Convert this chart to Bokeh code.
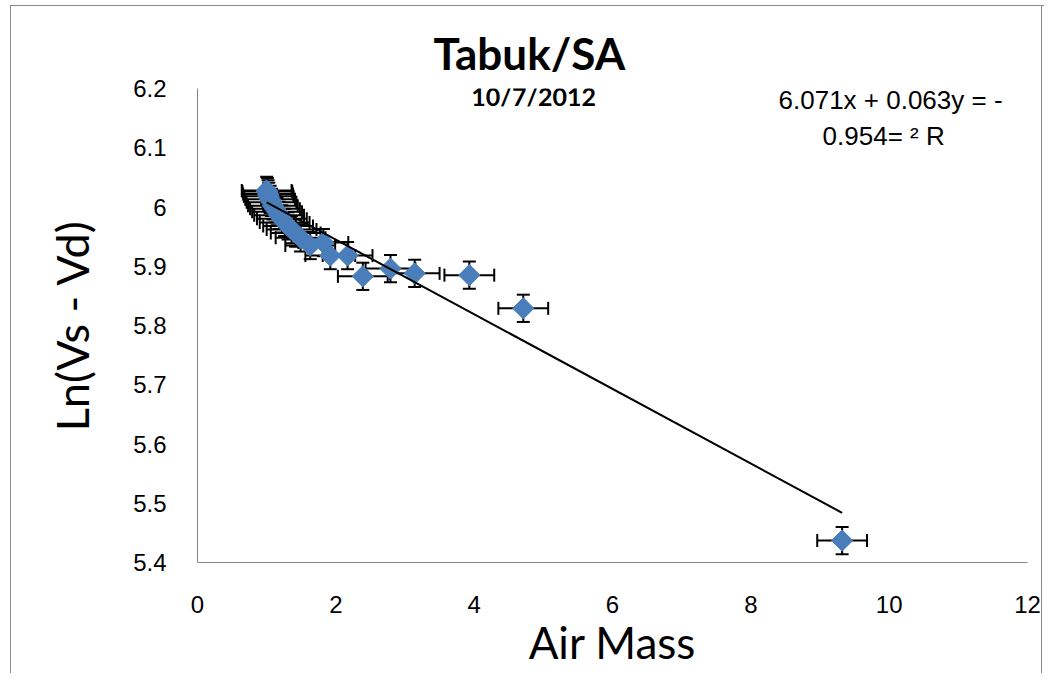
import numpy as np
from bokeh.plotting import figure
from bokeh.models import (ColumnDataSource, Whisker, TeeHead, Label,
                          FixedTicker, CustomJSTickFormatter)
from bokeh.embed import file_html
from bokeh.resources import INLINE

# ---- data ----
air_mass = [1.00, 1.01, 1.02, 1.03, 1.05, 1.07, 1.09, 1.12, 1.15, 1.18,
            1.22, 1.26, 1.31, 1.36, 1.42, 1.49, 1.63, 1.82, 1.92, 2.17,
            2.39, 2.79, 3.14, 3.93, 4.71, 9.32]
ln_v = [6.028, 6.026, 6.022, 6.018, 6.013, 6.008, 6.002, 5.997, 5.992, 5.986,
        5.980, 5.974, 5.968, 5.962, 5.956, 5.948, 5.935, 5.940, 5.918, 5.918,
        5.883, 5.896, 5.888, 5.885, 5.829, 5.437]
x_err = 0.36
y_err = 0.023
trend_slope = -0.063
trend_intercept = 6.071
x_ticks = [0, 2, 4, 6, 8, 10, 12]
y_ticks = [5.4, 5.5, 5.6, 5.7, 5.8, 5.9, 6.0, 6.1, 6.2]

title_text = "Tabuk/SA"
subtitle_text = "10/7/2012"
eq_line1 = "6.071x + 0.063y = -"
eq_line2 = "0.954= ² R"

# ---- figure ----
p = figure(width=1044, height=673, x_range=(0, 12), y_range=(5.4, 6.2),
           title=title_text,
           output_backend="svg", toolbar_location=None,
           min_border_left=197, min_border_right=17,
           min_border_top=88, min_border_bottom=111)
g = "linear-gradient(#8a8a8a,#8a8a8a)"
p.styles = {
    "background-color": "white",
    "background-image": f"{g}, {g}, {g}",
    "background-size": "1px 100%, 100% 1px, 1px 100%",
    "background-position": "10px 5px, 10px 5px, 1041px 5px",
    "background-repeat": "no-repeat",
}
p.grid.visible = False
p.outline_line_color = None
p.background_fill_color = "white"
p.border_fill_color = None

p.title.align = "left"
p.title.offset = 236
p.title.text_font = "Lato"
p.title.text_font_style = "bold"
p.title.text_font_size = "44px"
p.title.text_color = "black"
p.title.standoff = 20

xs = np.array(air_mass)
ys = np.array(ln_v)
src = ColumnDataSource(dict(x=xs, y=ys, xl=xs - x_err, xu=xs + x_err,
                            yl=ys - y_err, yu=ys + y_err))

for base, lo, up, dim in [("y", "xl", "xu", "width"), ("x", "yl", "yu", "height")]:
    w = Whisker(base=base, lower=lo, upper=up, dimension=dim, source=src,
                level="underlay", line_width=2, line_color="black",
                upper_head=TeeHead(size=13, line_width=2, line_color="black"),
                lower_head=TeeHead(size=13, line_width=2, line_color="black"))
    p.add_layout(w)

p.scatter("x", "y", source=src, marker="square", angle=np.pi / 4, size=15,
          fill_color="#4A7EBB", line_color="#4A7EBB")

tx = np.array([min(air_mass), max(air_mass)])
p.line(tx, trend_intercept + trend_slope * tx, line_color="black", line_width=2)

# ---- axes ----
for ax in (p.xaxis[0], p.yaxis[0]):
    ax.axis_line_color = "#868686"
    ax.axis_line_width = 1
    ax.major_tick_line_color = None
    ax.minor_tick_line_color = None
    ax.major_label_text_font = "Liberation Sans"
    ax.major_label_text_font_size = "24px"
    ax.major_label_text_color = "black"
    ax.axis_label_text_font = "Lato"
    ax.axis_label_text_font_size = "44px"
    ax.axis_label_text_font_style = "normal"
    ax.axis_label_text_color = "black"
p.yaxis.axis_label_text_font_size = "45px"

p.xaxis.ticker = FixedTicker(ticks=x_ticks)
p.yaxis.ticker = FixedTicker(ticks=y_ticks)
p.yaxis.formatter = CustomJSTickFormatter(code="return Number(tick.toFixed(1)).toString();")
p.xaxis.major_label_standoff = 27
p.yaxis.major_label_standoff = 25
p.xaxis.axis_label = "Air Mass"
p.yaxis.axis_label = "Ln(Vs - Vd)"
p.xaxis.axis_label_standoff = 0
p.yaxis.axis_label_standoff = 31

# ---- texts inside the plot area ----
p.add_layout(Label(x=4.86, y=6.188, text=subtitle_text, text_align="center",
                   text_baseline="middle", text_font="Lato", text_font_style="bold",
                   text_font_size="25px", text_color="black"))
p.add_layout(Label(x=10.02, y=6.18, text=eq_line1, text_align="center",
                   text_baseline="middle", text_font="Liberation Sans",
                   text_font_size="26px", text_color="black"))
p.add_layout(Label(x=9.92, y=6.12, text=eq_line2, text_align="center",
                   text_baseline="middle", text_font="Liberation Sans",
                   text_font_size="26px", text_color="black"))

open("out.html", "w").write(file_html(p, INLINE))
